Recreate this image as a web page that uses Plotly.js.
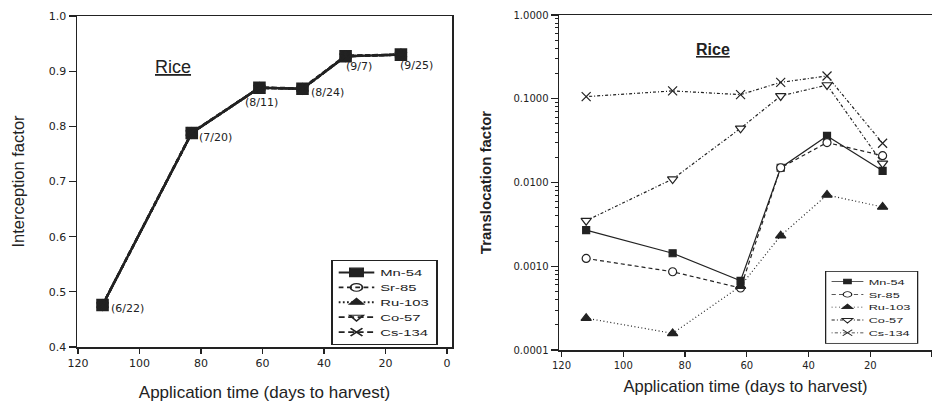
<!DOCTYPE html>
<html>
<head>
<meta charset="utf-8">
<script src="https://cdn.plot.ly/plotly-3.0.1.min.js"></script>
<style>
html,body{margin:0;padding:0;background:#fff;}
#chart{width:932px;height:402px;}
</style>
</head>
<body>
<div id="chart"></div>
<script>
// ---------- data ----------
const seriesNames = ['Mn-54', 'Sr-85', 'Ru-103', 'Co-57', 'Cs-134'];
const dateLabels = ['(6/22)', '(7/20)', '(8/11)', '(8/24)', '(9/7)', '(9/25)'];

// left panel: interception factor
const daysLeft = [112, 83, 61, 47, 33, 15];
const mnLeft = [0.476, 0.788, 0.870, 0.868, 0.927, 0.930];
const srLeft = [0.476, 0.788, 0.870, 0.868, 0.927, 0.930];
const ruLeft = [0.476, 0.788, 0.870, 0.868, 0.927, 0.930];
const coLeft = [0.476, 0.788, 0.870, 0.868, 0.927, 0.930];
const csLeft = [0.476, 0.789, 0.870, 0.869, 0.928, 0.930];

// right panel: translocation factor
const daysRight = [112, 84, 62, 49, 34, 16];
const mnRight = [0.0027, 0.00143, 0.00067, 0.0150, 0.036, 0.0138];
const srRight = [0.00124, 0.00086, 0.00055, 0.0150, 0.030, 0.0209];
const ruRight = [0.00024, 0.000158, 0.00058, 0.00232, 0.0071, 0.0051];
const coRight = [0.0035, 0.0110, 0.0444, 0.108, 0.146, 0.0169];
const csRight = [0.106, 0.124, 0.112, 0.157, 0.187, 0.0294];

const leftTicks = [120, 100, 80, 60, 40, 20, 0];
const rightYTickVals = [0.0001, 0.001, 0.01, 0.1, 1];
const rightYTickText = ['0.0001', '0.0010', '0.0100', '0.1000', '1.0000'];

// ---------- style ----------
const INK = '#222';
const FONT = 'DejaVu Sans, Liberation Sans, sans-serif';
const SANS = 'Liberation Sans, Arial, sans-serif';
const W = 932, H = 402;
const px = v => v / W;
const py = v => 1 - v / H;

const leftStyles = [
  {symbol: 'square', size: 11, dash: 'solid', fill: INK},
  {symbol: 'circle-open', size: 10, dash: '4px,3px', fill: INK},
  {symbol: 'triangle-up', size: 10, dash: '1.5px,2px', fill: INK},
  {symbol: 'triangle-down-open', size: 10, dash: '5px,3px', fill: INK},
  {symbol: 'x-thin-open', size: 10, dash: '5px,3px', fill: INK}
];
const rightStyles = [
  {symbol: 'square', size: 7, dash: 'solid', fill: INK},
  {symbol: 'circle', size: 8, dash: '4px,3px', fill: '#fff'},
  {symbol: 'triangle-up', size: 9, dash: '1px,2.5px', fill: INK},
  {symbol: 'triangle-down', size: 9, dash: '3px,2px,1px,2px', fill: '#fff'},
  {symbol: 'x-thin-open', size: 9, dash: '1px,2px,3px,2px', fill: INK}
];

const leftData = [mnLeft, srLeft, ruLeft, coLeft, csLeft];
const rightData = [mnRight, srRight, ruRight, coRight, csRight];

const traces = [];
leftData.forEach((vals, i) => {
  const s = leftStyles[i];
  traces.push({
    type: 'scatter', mode: 'lines+markers',
    x: daysLeft, y: vals, name: seriesNames[i],
    xaxis: 'x', yaxis: 'y', legend: 'legend',
    line: {color: INK, width: 2.4, dash: s.dash},
    marker: {symbol: s.symbol, size: s.size, color: s.fill, line: {color: INK, width: 1.6}}
  });
});
rightData.forEach((vals, i) => {
  const s = rightStyles[i];
  traces.push({
    type: 'scatter', mode: 'lines+markers',
    x: daysRight, y: vals, name: seriesNames[i],
    xaxis: 'x2', yaxis: 'y2', legend: 'legend2',
    line: {color: INK, width: 1.2, dash: s.dash},
    marker: {symbol: s.symbol, size: s.size, color: s.fill, line: {color: INK, width: 1.2}}
  });
});

// minor ticks for log axis
const minorVals = [];
for (let e = -4; e < 0; e++) {
  for (let m = 2; m <= 9; m++) minorVals.push(m * Math.pow(10, e));
}

// date labels on left panel
const labelOffsets = [
  {xa: 'left', xs: 6, ys: -3},
  {xa: 'left', xs: 5, ys: -5},
  {xa: 'center', xs: 2, ys: -15},
  {xa: 'left', xs: 7, ys: -4},
  {xa: 'left', xs: -2, ys: -10},
  {xa: 'left', xs: -3, ys: -11}
];
const annotations = dateLabels.map((t, i) => ({
  xref: 'x', yref: 'y', x: daysLeft[i], y: mnLeft[i], text: t,
  showarrow: false, xanchor: labelOffsets[i].xa, yanchor: 'middle',
  xshift: labelOffsets[i].xs, yshift: labelOffsets[i].ys,
  font: {family: FONT, size: 11, color: INK}
}));
annotations.push({
  xref: 'paper', yref: 'paper', x: px(173), y: py(67), text: '<u>Rice</u>',
  showarrow: false, xanchor: 'center', yanchor: 'middle',
  font: {family: SANS, size: 18, color: INK}
});
annotations.push({
  xref: 'paper', yref: 'paper', x: px(713), y: py(50), text: '<u><b>Rice</b></u>',
  showarrow: false, xanchor: 'center', yanchor: 'middle',
  font: {family: SANS, size: 16, color: INK}
});

const axisCommon = {
  showgrid: false, zeroline: false, showline: true, linecolor: INK, linewidth: 1.5,
  ticks: 'outside', tickcolor: INK, tickwidth: 1.3, mirror: true,
  tickfont: {family: FONT, size: 11, color: INK}
};

const layout = {
  width: W, height: H,
  margin: {l: 0, r: 0, t: 0, b: 0},
  paper_bgcolor: '#fff', plot_bgcolor: '#fff',
  font: {family: FONT, color: INK},
  xaxis: Object.assign({}, axisCommon, {
    domain: [px(77), px(452)], range: [120.3, -1.6],
    tickmode: 'array', tickvals: leftTicks, ticklen: 5,
    title: {text: 'Application time (days to harvest)', font: {family: SANS, size: 17, color: INK}, standoff: 17},
    anchor: 'y'
  }),
  yaxis: Object.assign({}, axisCommon, {
    domain: [py(347), py(16)], range: [0.4, 1.0],
    dtick: 0.1, tickformat: '.1f', ticklen: 7,
    title: {text: 'Interception factor', font: {family: SANS, size: 16.5, color: INK}, standoff: 20},
    anchor: 'x'
  }),
  xaxis2: Object.assign({}, axisCommon, {
    domain: [px(559), 1], range: [120.8, 0],
    tickmode: 'array', tickvals: leftTicks, ticklen: 5,
    tickfont: {family: FONT, size: 10, color: INK},
    title: {text: 'Application time (days to harvest)', font: {family: SANS, size: 16.5, color: INK}, standoff: 11},
    anchor: 'y2'
  }),
  yaxis2: Object.assign({}, axisCommon, {
    type: 'log', domain: [py(350), py(15)], range: [-4, 0],
    tickmode: 'array', tickvals: rightYTickVals, ticktext: rightYTickText, ticklen: 7,
    tickfont: {family: FONT, size: 10, color: INK},
    minor: {tickmode: 'array', tickvals: minorVals, ticks: 'outside', ticklen: 3, tickcolor: INK, tickwidth: 1, showgrid: false},
    title: {text: '<b>Translocation factor</b>', font: {family: 'Liberation Sans Narrow, Liberation Sans, Arial, sans-serif', size: 15, color: INK}, standoff: 18},
    anchor: 'x2'
  }),
  legend: {
    x: px(331), y: py(260), xanchor: 'left', yanchor: 'top',
    bgcolor: '#fff', bordercolor: INK, borderwidth: 1.5,
    font: {family: SANS, size: 12.5, color: INK},
    tracegroupgap: 0, itemwidth: 30
  },
  legend2: {
    x: px(825), y: py(271), xanchor: 'left', yanchor: 'top',
    bgcolor: '#fff', bordercolor: INK, borderwidth: 1.2,
    font: {family: SANS, size: 12, color: INK},
    tracegroupgap: 0, itemwidth: 30
  },
  annotations: annotations,
  showlegend: true
};

// target legend box sizes (px) as in the reference
const legendBoxes = {legend: [105, 84], legend2: [92, 72]};

Plotly.newPlot('chart', traces, layout, {displayModeBar: false, staticPlot: true}).then(gd => {
  Object.keys(legendBoxes).forEach(cls => {
    const g = gd.querySelector('g.' + cls);
    if (!g) return;
    const bg = g.querySelector('rect.bg');
    if (!bg) return;
    const w0 = parseFloat(bg.getAttribute('width'));
    const h0 = parseFloat(bg.getAttribute('height'));
    if (!(w0 > 0 && h0 > 0)) return;
    const sx = legendBoxes[cls][0] / w0, sy = legendBoxes[cls][1] / h0;
    const t = g.getAttribute('transform') || '';
    g.setAttribute('transform', t + ' scale(' + sx.toFixed(3) + ',' + sy.toFixed(3) + ')');
  });
});
</script>
</body>
</html>
